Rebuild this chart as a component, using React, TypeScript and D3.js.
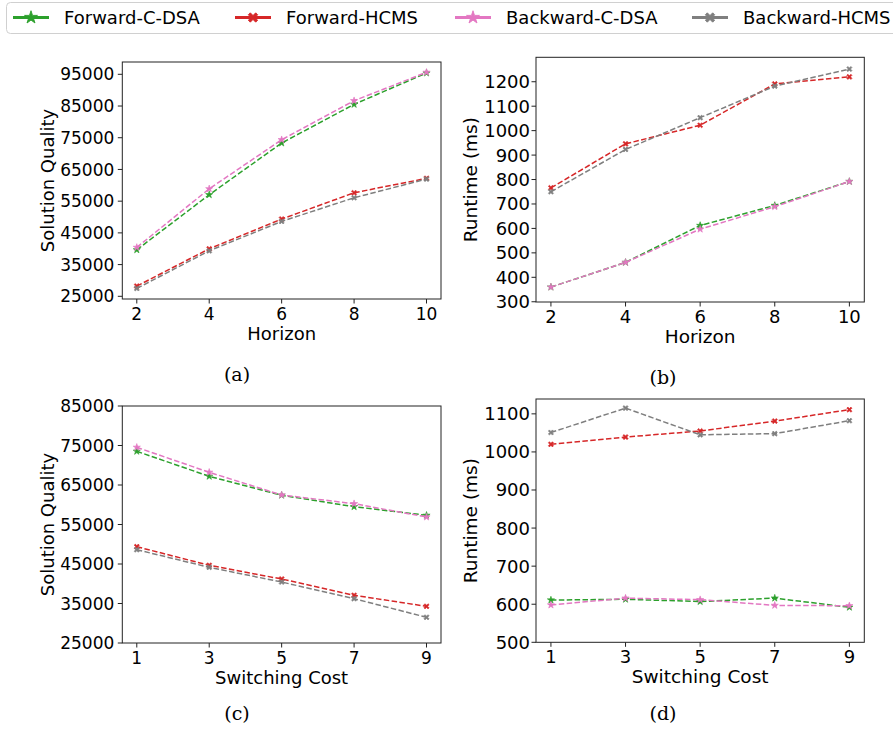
import React from "react";
import * as d3 from "d3";

const horizons = [2, 4, 6, 8, 10];
const switchingCosts = [1, 3, 5, 7, 9];

// (a) Solution quality vs horizon
const qualHorizonFwdCDSA = [39660, 57020, 73330, 85530, 95410];
const qualHorizonFwdHCMS = [28210, 39980, 49350, 57650, 62190];
const qualHorizonBwdCDSA = [40420, 58900, 74370, 86670, 95630];
const qualHorizonBwdHCMS = [27480, 39350, 48620, 56070, 61970];

// (b) Runtime vs horizon
const rtHorizonFwdCDSA = [360, 461, 612, 694, 792];
const rtHorizonFwdHCMS = [766, 946, 1022, 1191, 1220];
const rtHorizonBwdCDSA = [360, 461, 597, 689, 792];
const rtHorizonBwdHCMS = [750, 923, 1053, 1182, 1252];

// (c) Solution quality vs switching cost
const qualSwitchFwdCDSA = [73530, 67200, 62400, 59510, 57330];
const qualSwitchFwdHCMS = [49380, 44670, 41200, 37080, 34290];
const qualSwitchBwdCDSA = [74540, 68210, 62470, 60270, 56900];
const qualSwitchBwdHCMS = [48620, 44160, 40440, 36220, 31510];

// (d) Runtime vs switching cost
const rtSwitchFwdCDSA = [611, 613, 607, 616, 592];
const rtSwitchFwdHCMS = [1020, 1039, 1055, 1081, 1111];
const rtSwitchBwdCDSA = [598, 616, 612, 597, 596];
const rtSwitchBwdHCMS = [1051, 1115, 1045, 1048, 1082];

const seriesNames = ["Forward-C-DSA", "Forward-HCMS", "Backward-C-DSA", "Backward-HCMS"];
const seriesColors = ["#2ca02c", "#d62728", "#e377c2", "#7f7f7f"];
const seriesMarkers = ["star", "x", "star", "x"];

const qualTicksA = [25000, 35000, 45000, 55000, 65000, 75000, 85000, 95000];
const rtTicksB = [300, 400, 500, 600, 700, 800, 900, 1000, 1100, 1200];
const qualTicksC = [25000, 35000, 45000, 55000, 65000, 75000, 85000];
const rtTicksD = [500, 600, 700, 800, 900, 1000, 1100];

const FONT = "DejaVu Sans, sans-serif";
const SERIF = "'DejaVu Serif', 'Liberation Serif', serif";

const starPath = d3.symbol(d3.symbolStar, 16)()!;
const xPath = (() => {
  const a = 2.6, w = 1.1;
  const pts: [number, number][] = [
    [0, -w], [a - w, -a], [a, -a + w], [w, 0], [a, a - w], [a - w, a],
    [0, w], [-a + w, a], [-a, a - w], [-w, 0], [-a, -a + w], [-a + w, -a],
  ];
  return "M" + pts.map((p) => p.join(",")).join("L") + "Z";
})();

function Marker({ kind, x, y, color }: { kind: string; x: number; y: number; color: string }) {
  return (
    <path
      d={kind === "star" ? starPath : xPath}
      transform={`translate(${x},${y})`}
      fill={color}
      stroke={color}
      strokeWidth={0.6}
    />
  );
}

type PanelProps = {
  left: number; right: number; top: number; bottom: number;
  xs: number[]; xDomain: [number, number];
  yDomain: [number, number]; yTicks: number[];
  series: number[][];
  xLabel: string; yLabel: string; yLabelX: number;
  caption: string; captionX: number; captionY: number;
  tickFont: number; labelFont: number; yTickGap: number;
};

function Panel(p: PanelProps) {
  const x = d3.scaleLinear().domain(p.xDomain).range([p.left, p.right]);
  const y = d3.scaleLinear().domain(p.yDomain).range([p.bottom, p.top]);
  const line = d3.line<number>().x((_, i) => x(p.xs[i])).y((d) => y(d));
  const cx = (p.left + p.right) / 2;
  const cy = (p.top + p.bottom) / 2;
  return (
    <g>
      {p.series.map((s, si) => (
        <g key={si}>
          <path d={line(s)!} fill="none" stroke={seriesColors[si]} strokeWidth={1.5} strokeDasharray="5.5,2.4" />
          {s.map((v, i) => (
            <Marker key={i} kind={seriesMarkers[si]} x={x(p.xs[i])} y={y(v)} color={seriesColors[si]} />
          ))}
        </g>
      ))}
      <rect x={p.left} y={p.top} width={p.right - p.left} height={p.bottom - p.top} fill="none" stroke="#222" strokeWidth={1} />
      {p.yTicks.map((t) => (
        <g key={t}>
          <line x1={p.left - 4.5} x2={p.left} y1={y(t)} y2={y(t)} stroke="#222" strokeWidth={1} />
          <text x={p.left - p.yTickGap} y={y(t)} dy="0.36em" textAnchor="end" fontFamily={FONT} fontSize={p.tickFont} fill="#000">
            {t}
          </text>
        </g>
      ))}
      {p.xs.map((t) => (
        <g key={t}>
          <line x1={x(t)} x2={x(t)} y1={p.bottom} y2={p.bottom + 4.5} stroke="#222" strokeWidth={1} />
          <text x={x(t)} y={p.bottom + 20.5} textAnchor="middle" fontFamily={FONT} fontSize={p.tickFont} fill="#000">
            {t}
          </text>
        </g>
      ))}
      <text x={cx} y={p.bottom + 41} textAnchor="middle" fontFamily={FONT} fontSize={p.labelFont} fill="#000">
        {p.xLabel}
      </text>
      <text
        transform={`translate(${p.yLabelX},${cy}) rotate(-90)`}
        textAnchor="middle"
        fontFamily={FONT}
        fontSize={p.labelFont}
        fill="#000"
      >
        {p.yLabel}
      </text>
      <text x={p.captionX} y={p.captionY} textAnchor="middle" fontFamily={SERIF} fontSize={19} fill="#000">
        {p.caption}
      </text>
    </g>
  );
}

function Legend() {
  const textX = [64, 286, 506, 743];
  const ly = 17.5;
  return (
    <g>
      <rect x={6.5} y={2.5} width={900} height={31} rx={4} fill="#fff" stroke="#d0d0d0" strokeWidth={1} />
      {textX.map((tx, i) => (
        <g key={i}>
          <line x1={tx - 51} x2={tx - 15} y1={ly} y2={ly} stroke={seriesColors[i]} strokeWidth={3} />
          <g transform={`translate(${tx - 33},${ly}) scale(1.8)`}>
            <path d={seriesMarkers[i] === "star" ? starPath : xPath} fill={seriesColors[i]} stroke={seriesColors[i]} strokeWidth={0.5} />
          </g>
          <text x={tx} y={ly} dy="0.36em" fontFamily={FONT} fontSize={18} fill="#000">
            {seriesNames[i]}
          </text>
        </g>
      ))}
    </g>
  );
}

export default function App() {
  return (
    <svg width={893} height={732} style={{ position: "absolute", left: 0, top: 0, background: "#fff" }}>
      <rect x={0} y={0} width={893} height={732} fill="#fff" />
      <Legend />
      <Panel
        left={122.3} right={441} top={62} bottom={299}
        xs={horizons} xDomain={[1.6, 10.4]}
        yDomain={[24150, 98880]} yTicks={qualTicksA}
        series={[qualHorizonFwdCDSA, qualHorizonFwdHCMS, qualHorizonBwdCDSA, qualHorizonBwdHCMS]}
        xLabel="Horizon" yLabel="Solution Quality" yLabelX={54}
        caption="(a)" captionX={237} captionY={381}
        tickFont={17} labelFont={18} yTickGap={8}
      />
      <Panel
        left={536} right={864.3} top={57.3} bottom={302}
        xs={horizons} xDomain={[1.6, 10.4]}
        yDomain={[299, 1300]} yTicks={rtTicksB}
        series={[rtHorizonFwdCDSA, rtHorizonFwdHCMS, rtHorizonBwdCDSA, rtHorizonBwdHCMS]}
        xLabel="Horizon" yLabel="Runtime (ms)" yLabelX={477}
        caption="(b)" captionX={663} captionY={384}
        tickFont={18} labelFont={18.5} yTickGap={6}
      />
      <Panel
        left={122.3} right={441} top={406} bottom={643}
        xs={switchingCosts} xDomain={[0.6, 9.4]}
        yDomain={[25000, 85000]} yTicks={qualTicksC}
        series={[qualSwitchFwdCDSA, qualSwitchFwdHCMS, qualSwitchBwdCDSA, qualSwitchBwdHCMS]}
        xLabel="Switching Cost" yLabel="Solution Quality" yLabelX={54}
        caption="(c)" captionX={237} captionY={720}
        tickFont={17} labelFont={18} yTickGap={8}
      />
      <Panel
        left={536} right={864.3} top={399} bottom={642.3}
        xs={switchingCosts} xDomain={[0.6, 9.4]}
        yDomain={[500, 1139]} yTicks={rtTicksD}
        series={[rtSwitchFwdCDSA, rtSwitchFwdHCMS, rtSwitchBwdCDSA, rtSwitchBwdHCMS]}
        xLabel="Switching Cost" yLabel="Runtime (ms)" yLabelX={477}
        caption="(d)" captionX={663} captionY={720}
        tickFont={18} labelFont={18.5} yTickGap={6}
      />
    </svg>
  );
}
